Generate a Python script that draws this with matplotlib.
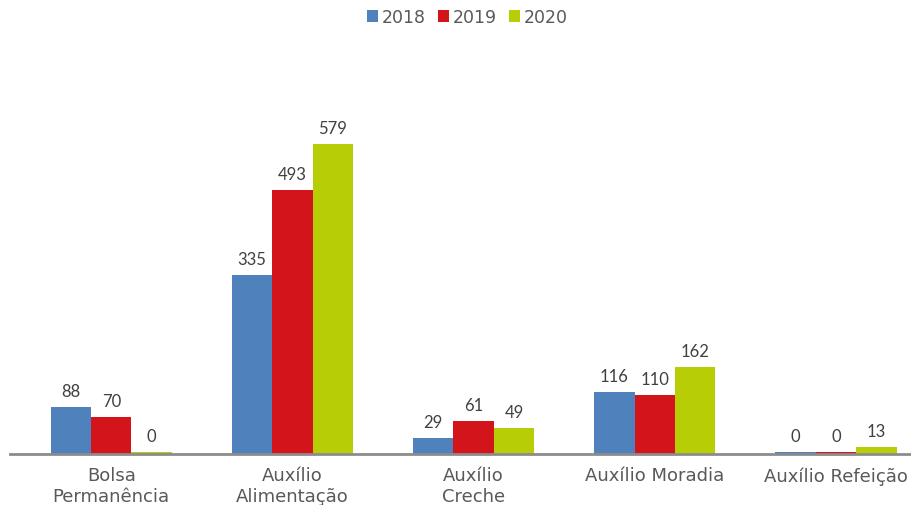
"""
Grouped bar chart: student aid beneficiaries by programme, 2018-2020.
Writes out.png (912x506).
"""

import numpy as np
import matplotlib.pyplot as plt


# ---------------------------------------------------------------------
# Data
# ---------------------------------------------------------------------

categories = [
    "Bolsa\nPermanência",
    "Auxílio\nAlimentação",
    "Auxílio\nCreche",
    "Auxílio Moradia",
    "Auxílio Refeição",
]
years = ["2018", "2019", "2020"]
values_2018 = [88, 335, 29, 116, 0]
values_2019 = [70, 493, 61, 110, 0]
values_2020 = [0, 579, 49, 162, 13]

COLORS = ["#4F81BD", "#D3141A", "#B7CD06"]
TEXT_GRAY = "#595959"
AXIS_GRAY = "#8C8C8C"


# ---------------------------------------------------------------------
# Plot
# ---------------------------------------------------------------------

def main() -> None:
    fig = plt.figure(figsize=(9.12, 5.06), dpi=100)
    ax = fig.add_axes([10 / 912, 51 / 506, 902 / 912, 395 / 506])

    series = [values_2018, values_2019, values_2020]
    x = np.arange(len(categories))
    width = 0.223
    ymax = 738
    min_h = ymax * 0.004  # zero bars still show as a thin sliver

    for i, (vals, year, color) in enumerate(zip(series, years, COLORS)):
        pos = x + (i - 1) * width
        heights = [max(v, min_h) for v in vals]
        ax.bar(pos, heights, width=width, color=color, label=year, zorder=2)
        for p, v, h in zip(pos, vals, heights):
            ax.text(p, h + 15, f"{v}", ha="center", va="bottom",
                    fontsize=12, color="#404040", family="Lato")

    ax.set_xlim(-0.559, 4.42)
    ax.set_ylim(0, ymax)
    ax.set_yticks([])
    ax.set_xticks(x)
    ax.set_xticklabels(categories, fontsize=13, color=TEXT_GRAY,
                       family="DejaVu Sans", linespacing=1.15)
    ax.tick_params(axis="x", length=0, pad=9)

    for side in ["top", "right", "left"]:
        ax.spines[side].set_visible(False)
    ax.spines["bottom"].set_color(AXIS_GRAY)
    ax.spines["bottom"].set_linewidth(2)
    ax.spines["bottom"].set_zorder(3)

    leg = fig.legend(
        loc="center",
        bbox_to_anchor=(467 / 912, 1 - 18 / 506),
        ncol=3,
        frameon=False,
        borderaxespad=0,
        handlelength=0.65,
        handleheight=0.65,
        handletextpad=0.2,
        columnspacing=0.7,
        prop={"family": "DejaVu Sans", "size": 12.5},
    )
    for t in leg.get_texts():
        t.set_color(TEXT_GRAY)

    fig.savefig("out.png", dpi=100)
    plt.close(fig)


if __name__ == "__main__":
    main()
